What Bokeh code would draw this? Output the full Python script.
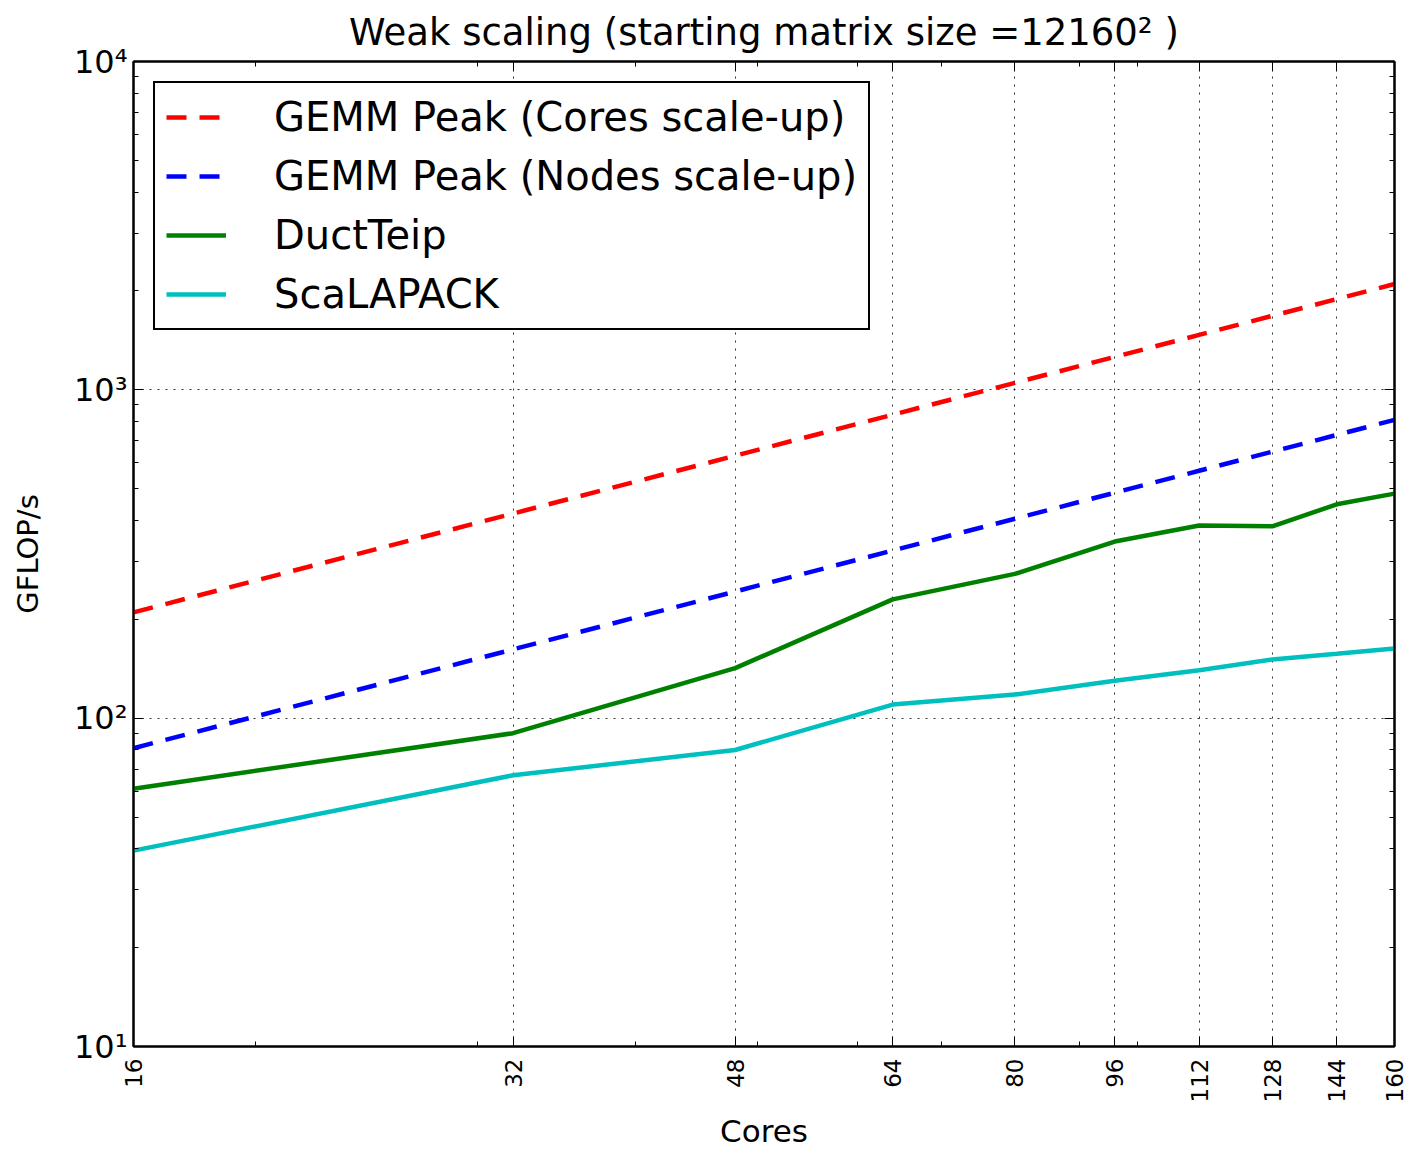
import math
from bokeh.plotting import figure
from bokeh.models import LogAxis, FixedTicker, Range1d, Legend, LegendItem
from bokeh.embed import file_html
from bokeh.resources import INLINE

# ---- data ----
cores = [16, 32, 48, 64, 80, 96, 112, 128, 144, 160]
peak_cores = [210, 420, 630, 840, 1050, 1260, 1470, 1680, 1890, 2100]
peak_nodes = [81, 162, 243, 324, 405, 486, 567, 648, 729, 810]
ductteip = [61, 90, 142, 230, 275, 345, 386, 384, 448, 483]
scalapack = [39.5, 67, 80, 110, 118, 130, 140, 151, 157, 163]

x_ticks = [16, 32, 48, 64, 80, 96, 112, 128, 144, 160]
x_minor = [20, 30, 40, 50, 60, 70, 90, 100]
y_ticks = [10, 100, 1000, 10000]
y_minor = [m * d for d in (10, 100, 1000) for m in range(2, 10)]
y_labels = {10: "10¹", 100: "10²", 1000: "10³", 10000: "10⁴"}

title_text = "Weak scaling (starting matrix size =12160² )"
FONT = "DejaVu Sans"

xticker = FixedTicker(ticks=x_ticks, minor_ticks=x_minor)
yticker = FixedTicker(ticks=y_ticks, minor_ticks=y_minor)

p = figure(x_axis_type="log", y_axis_type="log",
           x_range=Range1d(16, 160), y_range=Range1d(10, 10000),
           frame_width=1261, frame_height=985,
           min_border_left=133, min_border_right=14,
           min_border_top=60, min_border_bottom=100,
           output_backend="svg", toolbar_location=None,
           title=title_text)

p.title.text_font = FONT
p.title.text_font_size = "37px"
p.title.text_font_style = "normal"
p.title.text_color = "black"
p.title.align = "center"
p.title.standoff = 16
p.title.offset = 0

p.outline_line_color = "black"
p.outline_line_alpha = 1.0
p.outline_line_width = 2
p.background_fill_color = "white"
p.border_fill_color = "white"

def style_axis(ax):
    ax.axis_line_color = "black"
    ax.axis_line_width = 2
    ax.major_tick_in = 10
    ax.major_tick_out = 0
    ax.minor_tick_in = 5
    ax.minor_tick_out = 0
    ax.major_tick_line_color = "black"
    ax.minor_tick_line_color = "black"
    ax.major_tick_line_width = 1
    ax.minor_tick_line_width = 1
    ax.major_label_text_color = "black"
    ax.axis_label_text_color = "black"

xa = p.xaxis[0]
xa.ticker = xticker
style_axis(xa)
xa.major_label_overrides = {t: str(t) for t in x_ticks}
xa.major_label_orientation = math.pi / 2
xa.major_label_text_font = FONT
xa.major_label_text_font_size = "23px"
xa.major_label_standoff = 12
xa.axis_label = "Cores"
xa.axis_label_text_font = FONT
xa.axis_label_text_font_size = "31px"
xa.axis_label_text_font_style = "normal"
xa.axis_label_standoff = 8

ya = p.yaxis[0]
ya.ticker = yticker
style_axis(ya)
ya.major_label_overrides = y_labels
ya.major_label_text_font = FONT
ya.major_label_text_font_size = "32px"
ya.major_label_standoff = 6
ya.axis_label = "GFLOP/s"
ya.axis_label_text_font = FONT
ya.axis_label_text_font_size = "29px"
ya.axis_label_text_font_style = "normal"
ya.axis_label_standoff = 26

top = LogAxis(ticker=xticker)
style_axis(top)
top.major_label_overrides = {t: "" for t in x_ticks}
top.major_label_standoff = 0
p.add_layout(top, "above")

right = LogAxis(ticker=yticker)
style_axis(right)
right.major_label_overrides = {t: "" for t in y_ticks}
right.major_label_standoff = 0
p.add_layout(right, "right")

p.xgrid.ticker = xticker
p.ygrid.ticker = yticker
for g in (p.xgrid, p.ygrid):
    g.grid_line_color = "black"
    g.grid_line_alpha = 0.8
    g.grid_line_width = 1
    g.grid_line_dash = "2 6"

r1 = p.line(cores, peak_cores, line_color="#ff0000", line_width=4.5, line_dash="20 13")
r2 = p.line(cores, peak_nodes, line_color="#0000ff", line_width=4.5, line_dash="20 13")
r3 = p.line(cores, ductteip, line_color="#008000", line_width=4.5)
r4 = p.line(cores, scalapack, line_color="#00bfbf", line_width=4.5)

legend = Legend(items=[
    LegendItem(label="GEMM Peak (Cores scale-up)", renderers=[r1]),
    LegendItem(label="GEMM Peak (Nodes scale-up)", renderers=[r2]),
    LegendItem(label="DuctTeip", renderers=[r3]),
    LegendItem(label="ScaLAPACK", renderers=[r4]),
], location="top_left")
legend.label_text_font = FONT
legend.label_text_font_size = "40px"
legend.label_text_color = "black"
legend.border_line_color = "black"
legend.border_line_alpha = 1.0
legend.border_line_width = 2
legend.background_fill_alpha = 1.0
legend.glyph_width = 60
legend.glyph_height = 46
legend.label_height = 46
legend.label_standoff = 48
legend.spacing = 13
legend.padding = 11
legend.margin = 20
p.add_layout(legend)

open("out.html", "w").write(file_html(p, INLINE))
